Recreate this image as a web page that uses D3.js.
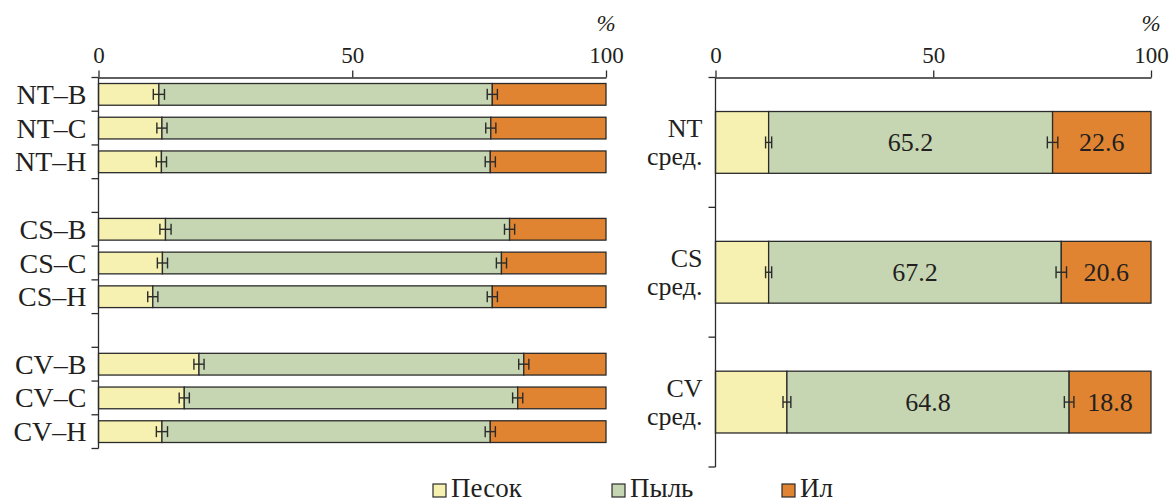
<!DOCTYPE html>
<html>
<head>
<meta charset="utf-8">
<script src="https://cdn.jsdelivr.net/npm/d3@7"></script>
<style>
  html, body { margin: 0; padding: 0; background: #fff; }
  svg { display: block; }
  text { font-family: "Liberation Serif", "Times New Roman", serif; fill: #231f20; }
</style>
</head>
<body>
<svg id="chart" width="1169" height="504"></svg>
<script>
// Particle-size fractions, % (sand / silt / clay) by horizon
const leftSamples = ["NT–B", "NT–C", "NT–H", "CS–B", "CS–C", "CS–H", "CV–B", "CV–C", "CV–H"];
const leftSand  = [11.9, 12.5, 12.4, 13.2, 12.6, 10.7, 19.8, 16.9, 12.5];
const leftSilt  = [65.7, 64.8, 64.8, 67.8, 66.8, 66.9, 64.0, 65.7, 64.7];
const leftClay  = [22.4, 22.7, 22.8, 19.0, 20.6, 22.4, 16.2, 17.4, 22.8];
const leftSandErr = [1.1, 1.0, 1.0, 1.1, 1.0, 1.0, 1.0, 1.0, 1.1];
const leftClayErr = [1.0, 1.0, 1.0, 1.0, 1.0, 1.0, 1.0, 1.0, 1.0];

// Site means
const rightSites = ["NT", "CS", "CV"];
const rightSand  = [12.2, 12.2, 16.4];
const rightSilt  = [65.2, 67.2, 64.8];
const rightClay  = [22.6, 20.6, 18.8];
const rightSandErr = [0.7, 0.7, 0.9];
const rightClayErr = [1.2, 1.2, 1.1];
const meanLabel = "сред.";

const xTicks = [0, 50, 100];
const fractions = ["sand", "silt", "clay"];
const legendLabels = ["Песок", "Пыль", "Ил"];
const colors = { sand: "#f6f1b0", silt: "#c6d5b2", clay: "#e08431" };
const ink = "#2b2b2b";

const svg = d3.select("#chart");

function drawPanel(opts) {
  const { rows, rowKeys, x, y, labelFn, errCap, showValues } = opts;
  const g = svg.append("g");
  const [x0, x1] = x.range();
  const [y0, y1] = y.range();

  // stacked bars
  const stack = d3.stack().keys(fractions)(rows);
  stack.forEach(layer => {
    g.append("g").selectAll("rect").data(layer).join("rect")
      .attr("x", d => x(d[0]))
      .attr("y", d => y(d.data.key))
      .attr("width", d => x(d[1]) - x(d[0]))
      .attr("height", y.bandwidth())
      .attr("fill", colors[layer.key])
      .attr("stroke", ink)
      .attr("stroke-width", 1.3);
  });

  // error bars at the sand/silt and silt/clay boundaries
  const errs = [];
  rows.forEach(r => {
    errs.push({ key: r.key, v: r.sand, e: r.sandErr });
    errs.push({ key: r.key, v: r.sand + r.silt, e: r.clayErr });
  });
  const eg = g.append("g").attr("stroke", ink).attr("stroke-width", 1.4).attr("fill", "none");
  errs.forEach(d => {
    const cy = y(d.key) + y.bandwidth() / 2;
    const a = x(d.v - d.e), b = x(d.v + d.e);
    eg.append("line").attr("x1", a).attr("x2", b).attr("y1", cy).attr("y2", cy);
    eg.append("line").attr("x1", a).attr("x2", a).attr("y1", cy - errCap / 2).attr("y2", cy + errCap / 2);
    eg.append("line").attr("x1", b).attr("x2", b).attr("y1", cy - errCap / 2).attr("y2", cy + errCap / 2);
  });

  // value labels
  if (showValues) {
    rows.forEach(r => {
      const cy = y(r.key) + y.bandwidth() / 2;
      g.append("text").attr("x", x(r.sand + r.silt / 2)).attr("y", cy + 9)
        .attr("text-anchor", "middle").attr("font-size", 26).text(r.silt.toFixed(1));
      g.append("text").attr("x", x(r.sand + r.silt + r.clay / 2)).attr("y", cy + 9)
        .attr("text-anchor", "middle").attr("font-size", 26).text(r.clay.toFixed(1));
    });
  }

  // top axis
  const xAxis = d3.axisTop(x).tickValues(xTicks).tickSize(7).tickSizeOuter(0).tickPadding(8);
  const ax = g.append("g").attr("transform", `translate(0,${y0})`).call(xAxis);
  ax.select(".domain").attr("stroke", ink).attr("stroke-width", 1.3);
  ax.selectAll(".tick line").attr("stroke", ink).attr("stroke-width", 1.3);
  ax.selectAll(".tick text").attr("font-size", 23).attr("font-family", "Liberation Serif").attr("fill", "#231f20");

  // left axis with ticks at band boundaries
  const ag = g.append("g").attr("stroke", ink).attr("stroke-width", 1.3);
  ag.append("line").attr("x1", x0).attr("x2", x0).attr("y1", y0).attr("y2", y1);
  const bounds = rowKeys.map(k => y(k) - (y.step() - y.bandwidth()) / 2);
  bounds.push(y1);
  bounds.forEach(b => {
    ag.append("line").attr("x1", x0 - 7).attr("x2", x0).attr("y1", b).attr("y2", b);
  });

  // category labels
  rows.forEach(r => labelFn(g, r, y(r.key) + y.bandwidth() / 2, x0));

  // unit
  g.append("text").attr("x", x1).attr("y", 31).attr("text-anchor", "middle")
    .attr("font-size", 23).attr("font-style", "italic").text("%");
}

// ---- left panel: horizons, with empty rows between sites
const leftRows = leftSamples.map((s, i) => ({
  key: s, sand: leftSand[i], silt: leftSilt[i], clay: leftClay[i],
  sandErr: leftSandErr[i], clayErr: leftClayErr[i]
}));
const leftKeys = [];
leftSamples.forEach((s, i) => {
  if (i > 0 && s.slice(0, 2) !== leftSamples[i - 1].slice(0, 2)) leftKeys.push("gap" + i);
  leftKeys.push(s);
});
const xL = d3.scaleLinear().domain([0, 100]).range([98.5, 606]);
const yL = d3.scaleBand().domain(leftKeys).range([77.5, 448.5]).paddingInner(0.356).paddingOuter(0.178);

drawPanel({
  rows: leftRows, rowKeys: leftKeys, x: xL, y: yL, errCap: 11, showValues: false,
  labelFn: (g, r, cy, x0) => {
    g.append("text").attr("x", x0 - 12).attr("y", cy + 9.5).attr("text-anchor", "end")
      .attr("font-size", 28).text(r.key);
  }
});

// ---- right panel: site means
const rightRows = rightSites.map((s, i) => ({
  key: s, sand: rightSand[i], silt: rightSilt[i], clay: rightClay[i],
  sandErr: rightSandErr[i], clayErr: rightClayErr[i]
}));
const xR = d3.scaleLinear().domain([0, 100]).range([715.5, 1151]);
const yR = d3.scaleBand().domain(rightSites).range([77.5, 467]).paddingInner(0.524).paddingOuter(0.262);

drawPanel({
  rows: rightRows, rowKeys: rightSites, x: xR, y: yR, errCap: 12, showValues: true,
  labelFn: (g, r, cy, x0) => {
    g.append("text").attr("x", x0 - 13).attr("y", cy - 5.5).attr("text-anchor", "end")
      .attr("font-size", 26).text(r.key);
    g.append("text").attr("x", x0 - 13).attr("y", cy + 22.5).attr("text-anchor", "end")
      .attr("font-size", 26).text(meanLabel);
  }
});

// ---- legend
const legendX = [433, 612, 782];
const lg = svg.append("g");
fractions.forEach((f, i) => {
  lg.append("rect").attr("x", legendX[i]).attr("y", 484).attr("width", 13).attr("height", 13)
    .attr("fill", colors[f]).attr("stroke", ink).attr("stroke-width", 1.2);
  lg.append("text").attr("x", legendX[i] + 18).attr("y", 497).attr("font-size", 27).text(legendLabels[i]);
});
</script>
</body>
</html>
